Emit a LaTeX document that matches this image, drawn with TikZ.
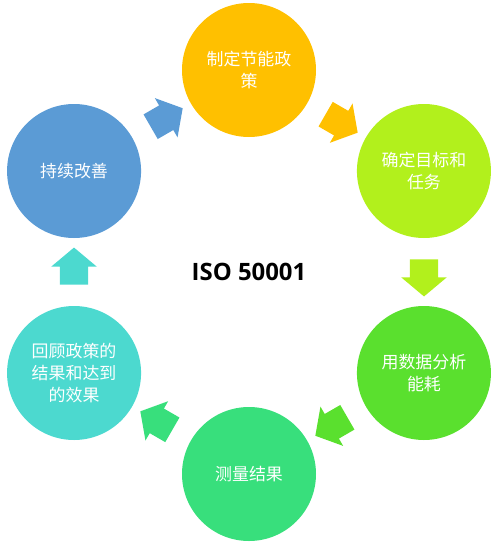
\documentclass[tikz,border=0pt]{standalone}
\usepackage{fontspec}
\newfontfamily\cjk{Noto Sans CJK SC}
\newfontfamily\isofont{Open Sans}
\usepackage{tikz}
\usetikzlibrary{positioning,calc,shapes.arrows}
\definecolor{cOrange}{HTML}{FFC000}
\definecolor{cLime}{HTML}{B2F01C}
\definecolor{cGreen}{HTML}{5AE02E}
\definecolor{cMint}{HTML}{38DF7C}
\definecolor{cCyan}{HTML}{4CD9CF}
\definecolor{cBlue}{HTML}{5B9BD5}

\begin{document}
\begin{tikzpicture}[
  stage/.style={circle, minimum size=134bp, inner sep=0pt, text=white, align=center,
    font=\cjk\fontsize{17}{22.5}\selectfont},
  blk/.style={single arrow, draw=none, minimum height=37bp, minimum width=45bp,
    single arrow head extend=8.5bp, single arrow tip angle=100,
    inner xsep=0pt, inner ysep=14bp}]
\useasboundingbox (0,0) rectangle (500bp,-544bp);
% centre
\node[font=\isofont\bfseries\fontsize{24}{28}\selectfont] (iso) at (249bp,-272bp) {ISO 50001};
% stages, clockwise from top
\node[stage, fill=cOrange] (policy) at ($(iso)+(90:202bp)$) {制定节能政\\策};
\node[stage, fill=cLime] (target) at ($(iso)+(30:202bp)$) {确定目标和\\任务};
\node[stage, fill=cGreen] (analyse) at ($(iso)+(-30:202bp)$) {用数据分析\\能耗};
\node[stage, fill=cMint] (measure) at ($(iso)+(-90:202bp)$) {测量结果};
\node[stage, fill=cCyan] (review) at ($(iso)+(-150:202bp)$) {回顾政策的\\结果和达到\\的效果};
\node[stage, fill=cBlue] (improve) at ($(iso)+(150:202bp)$) {持续改善};
% block arrows between stages
\node[blk, fill=cOrange, rotate=-30] (p2t) at ($(iso)+(60:175bp)$) {};
\node[blk, fill=cLime, rotate=-90] (t2a) at ($(iso)+(0:175bp)$) {};
\node[blk, fill=cGreen, rotate=-150] (a2m) at ($(iso)+(-60:175bp)$) {};
\node[blk, fill=cMint, rotate=150] (m2r) at ($(iso)+(-120:175bp)$) {};
\node[blk, fill=cCyan, rotate=90] (r2i) at ($(iso)+(180:175bp)$) {};
\node[blk, fill=cBlue, rotate=30] (i2p) at ($(iso)+(120:175bp)$) {};
\end{tikzpicture}
\end{document}
